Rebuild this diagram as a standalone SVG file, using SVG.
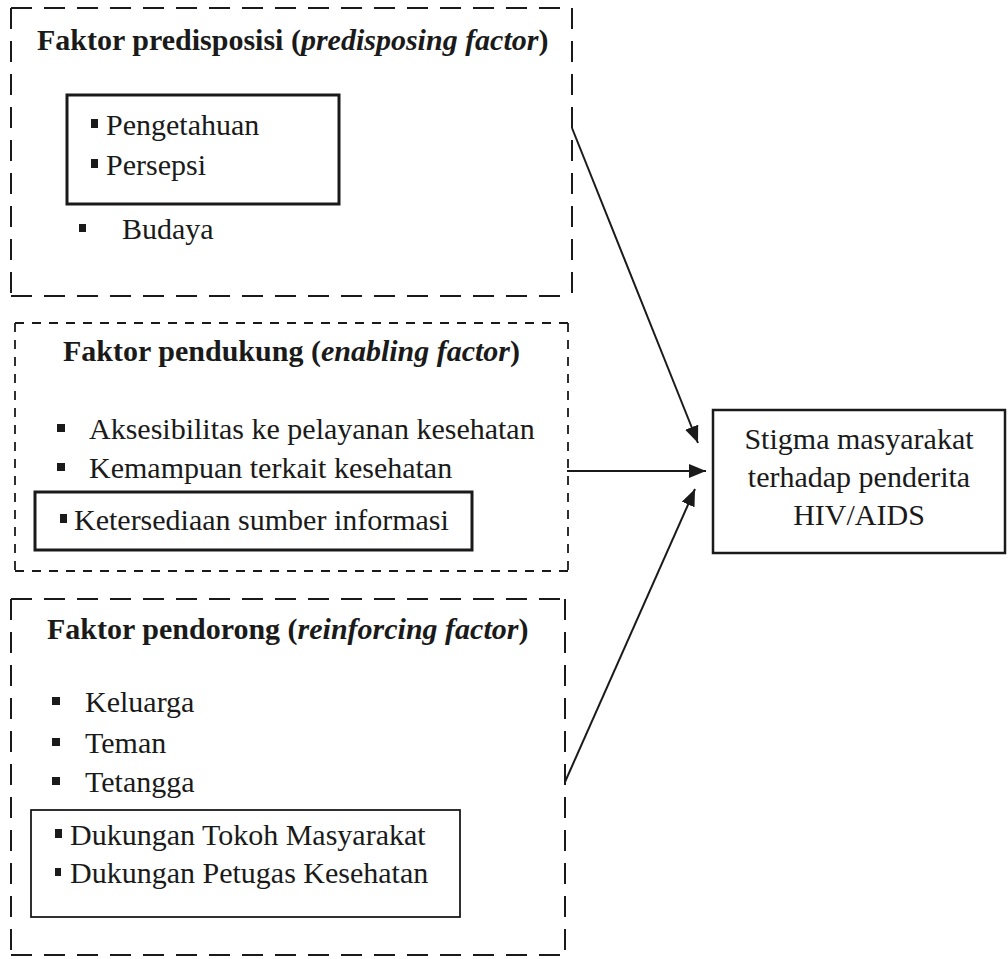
<svg xmlns="http://www.w3.org/2000/svg" width="1008" height="959" viewBox="0 0 1008 959">
  <style>
    .t { font-family: "Liberation Serif", "Times New Roman", serif; font-size: 30px; fill: #1a1a1a; }
    .h { font-weight: bold; }
    .i { font-style: italic; }
    .dash-long { fill: none; stroke: #1a1a1a; stroke-width: 2; stroke-dasharray: 21 12; }
    .dash-short { fill: none; stroke: #1a1a1a; stroke-width: 1.8; stroke-dasharray: 9 8; }
    .inner-thick { fill: none; stroke: #1a1a1a; stroke-width: 3; }
    .inner-thin { fill: none; stroke: #1a1a1a; stroke-width: 1.8; }
    .bullet { fill: #1a1a1a; }
    .edge { stroke: #1a1a1a; stroke-width: 2; fill: none; marker-end: url(#arrow); }
  </style>
  <defs>
    <marker id="arrow" markerUnits="userSpaceOnUse" markerWidth="18" markerHeight="14" refX="17" refY="7" orient="auto">
      <path d="M0,0 L17,7 L0,14 Z" fill="#1a1a1a"/>
    </marker>
  </defs>
  <rect width="1008" height="959" fill="#ffffff"/>

  <!-- Predisposing factors -->
  <g id="predisposing">
    <path class="dash-long" d="M11,8 L572,8 M11,8 L11,296 M11,296 L572,296 M572,8 L572,296"/>
    <text class="t h" x="37" y="50">Faktor predisposisi (<tspan class="i">predisposing factor</tspan>)</text>
    <rect class="inner-thick" x="67" y="95" width="272" height="109"/>
    <rect class="bullet" x="91" y="119" width="7" height="9"/>
    <text class="t" x="106" y="135">Pengetahuan</text>
    <rect class="bullet" x="91" y="159" width="7" height="9"/>
    <text class="t" x="106" y="175">Persepsi</text>
    <rect class="bullet" x="79" y="224" width="7" height="8"/>
    <text class="t" x="122" y="239">Budaya</text>
  </g>

  <!-- Enabling factors -->
  <g id="enabling">
    <path class="dash-short" d="M15,323 L568,323 M15,323 L15,571 M15,571 L568,571 M568,323 L568,571"/>
    <text class="t h" x="63" y="361">Faktor pendukung (<tspan class="i">enabling factor</tspan>)</text>
    <rect class="bullet" x="57" y="424" width="8" height="8"/>
    <text class="t" x="89" y="439">Aksesibilitas ke pelayanan kesehatan</text>
    <rect class="bullet" x="57" y="463" width="8" height="8"/>
    <text class="t" x="89" y="478">Kemampuan terkait kesehatan</text>
    <rect class="inner-thick" x="35" y="492" width="437" height="58"/>
    <rect class="bullet" x="60" y="514" width="7" height="9"/>
    <text class="t" x="74" y="530">Ketersediaan sumber informasi</text>
  </g>

  <!-- Reinforcing factors -->
  <g id="reinforcing">
    <path class="dash-long" d="M11,599 L565,599 M11,599 L11,955 M11,955 L565,955 M565,599 L565,955"/>
    <text class="t h" x="47" y="639">Faktor pendorong (<tspan class="i">reinforcing factor</tspan>)</text>
    <rect class="bullet" x="52" y="697" width="8" height="8"/>
    <text class="t" x="85" y="712">Keluarga</text>
    <rect class="bullet" x="52" y="738" width="8" height="8"/>
    <text class="t" x="85" y="753">Teman</text>
    <rect class="bullet" x="52" y="777" width="8" height="8"/>
    <text class="t" x="85" y="792">Tetangga</text>
    <rect class="inner-thin" x="31" y="810" width="429" height="107"/>
    <rect class="bullet" x="55" y="829" width="7" height="9"/>
    <text class="t" x="70" y="845">Dukungan Tokoh Masyarakat</text>
    <rect class="bullet" x="55" y="868" width="6" height="8"/>
    <text class="t" x="70" y="883">Dukungan Petugas Kesehatan</text>
  </g>

  <!-- Outcome -->
  <g id="stigma">
    <rect x="713" y="410" width="292" height="143" fill="#ffffff" stroke="#1a1a1a" stroke-width="2.5"/>
    <text class="t" x="859" y="449" text-anchor="middle">Stigma masyarakat</text>
    <text class="t" x="859" y="487" text-anchor="middle">terhadap penderita</text>
    <text class="t" x="859" y="525" text-anchor="middle">HIV/AIDS</text>
  </g>

  <!-- Connectors -->
  <g id="connectors">
    <line class="edge" x1="572" y1="128" x2="698" y2="443"/>
    <line class="edge" x1="567" y1="471" x2="706" y2="471"/>
    <line class="edge" x1="565" y1="782" x2="695" y2="489"/>
  </g>
</svg>
